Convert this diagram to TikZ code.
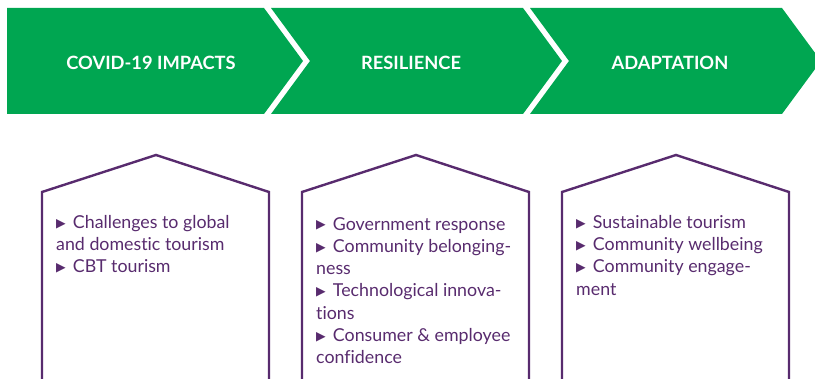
\documentclass[tikz,border=0pt]{standalone}
\usepackage{fontspec}
\setmainfont{Lato}[Ligatures={NoCommon}]
\newfontfamily\symfont{DejaVu Sans}
\definecolor{bandgreen}{RGB}{0,166,81}
\definecolor{housepurple}{RGB}{88,43,110}
\newcommand{\tri}{\raisebox{1.2pt}{\symfont\fontsize{12.5}{12}\selectfont ▶}\hspace{0.4em}}
\tikzset{
  stage/.style={fill=bandgreen, draw=none},
  stagelabel/.style={text=white, font=\bfseries\fontsize{18.3}{20}\selectfont, inner sep=0pt},
  house/.style={draw=housepurple, line width=2.4pt, line join=miter},
  houselist/.style={text=housepurple, anchor=north west, align=left, inner sep=0pt,
    font=\fontsize{17.8}{22.3}\selectfont}
}
\begin{document}
\begin{tikzpicture}[x=1pt,y=-1pt]
\useasboundingbox (0,0) rectangle (815,379);
% process band
\path[stage] (7,8) -- (264,8) -- (303,61) -- (264,114) -- (7,114) -- cycle;
\path[stage] (271,8) -- (523,8) -- (562,61) -- (523,114) -- (271,114) -- (310,61) -- cycle;
\path[stage] (530,8) -- (782,8) -- (821,61) -- (782,114) -- (530,114) -- (569,61) -- cycle;
\node[stagelabel] (s1) at (151,63) {COVID-19 IMPACTS};
\node[stagelabel] (s2) at (411,63) {RESILIENCE};
\node[stagelabel] (s3) at (670,63) {ADAPTATION};
% houses
\draw[house] (42,381) -- (42,192) -- (156,155) -- (269,192) -- (269,381);
\draw[house] (302,381) -- (302,192) -- (416,155) -- (529,192) -- (529,381);
\draw[house] (562,381) -- (562,192) -- (676,155) -- (789,192) -- (789,381);
% house contents
\node[houselist] (l1) at (56,215) {\tri Challenges to global\\and domestic tourism\\\tri CBT tourism};
\node[houselist] (l2) at (316,217) {\tri Government response\\\tri Community belonging-\\ness\\\tri Technological innova-\\tions\\\tri Consumer \& employee\\confidence};
\node[houselist] (l3) at (576,215) {\tri Sustainable tourism\\\tri Community wellbeing\\\tri Community engage-\\ment};
\end{tikzpicture}
\end{document}
